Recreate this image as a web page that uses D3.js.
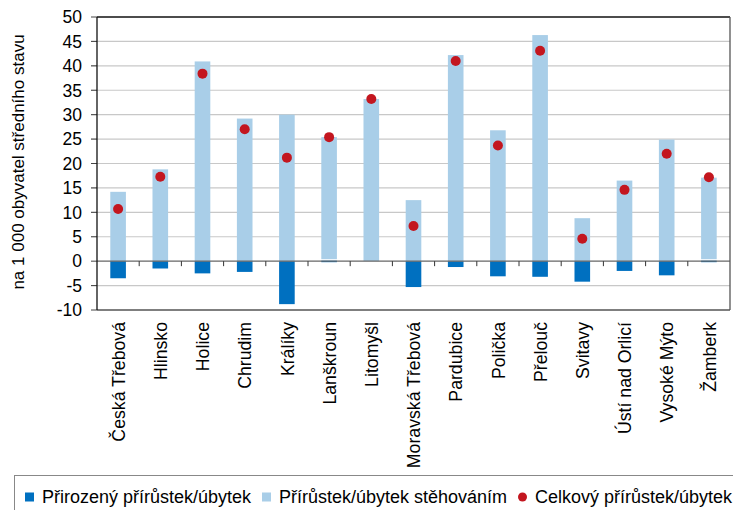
<!DOCTYPE html>
<html>
<head>
<meta charset="utf-8">
<script src="https://cdn.jsdelivr.net/npm/d3@7/dist/d3.min.js"></script>
<style>
  body { margin: 0; background: #fff; }
  text { font-family: "Liberation Sans", Arial, sans-serif; fill: #000; }
</style>
</head>
<body>
<svg width="733" height="510"></svg>
<script>
var towns = ["Česká Třebová", "Hlinsko", "Holice", "Chrudim", "Králíky", "Lanškroun", "Litomyšl",
  "Moravská Třebová", "Pardubice", "Polička", "Přelouč", "Svitavy", "Ústí nad Orlicí", "Vysoké Mýto", "Žamberk"];
var natural = [-3.5, -1.5, -2.5, -2.2, -8.8, 0.1, 0.0, -5.3, -1.2, -3.1, -3.2, -4.2, -2.0, -2.9, 0.1];
var migration = [14.2, 18.8, 40.9, 29.2, 30.0, 25.3, 33.2, 12.5, 42.2, 26.8, 46.3, 8.8, 16.5, 24.9, 17.0];
var total = [10.7, 17.3, 38.4, 27.0, 21.2, 25.4, 33.2, 7.2, 41.0, 23.7, 43.1, 4.6, 14.6, 22.0, 17.2];
var yTicks = [-10, -5, 0, 5, 10, 15, 20, 25, 30, 35, 40, 45, 50];

var svg = d3.select("svg"),
    margin = {top: 17, right: 3, bottom: 200, left: 97},
    width = 733 - margin.left - margin.right,
    height = 310 - margin.top,
    g = svg.append("g").attr("transform", "translate(" + margin.left + "," + margin.top + ")");

var x = d3.scaleBand().domain(towns).range([0, width]).paddingInner(0.63).paddingOuter(0.315);
var y = d3.scaleLinear().domain([-10, 50]).range([height, 0]);

// gridlines
g.append("g").selectAll("line").data(yTicks.filter(function(d) { return d !== 0 && d !== 50 && d !== -10; }))
  .enter().append("line")
    .attr("x1", -6).attr("x2", width)
    .attr("y1", function(d) { return y(d); }).attr("y2", function(d) { return y(d); })
    .attr("stroke", "#c8c8c8").attr("stroke-width", 1.2);

// y axis labels + ticks
g.append("g").selectAll("text").data(yTicks).enter().append("text")
    .attr("x", -15).attr("y", function(d) { return y(d); })
    .attr("dy", "0.36em")
    .attr("text-anchor", "end")
    .style("font-size", "17.5px")
    .text(function(d) { return d; });
g.append("g").selectAll("line").data(yTicks).enter().append("line")
    .attr("x1", -6).attr("x2", 0)
    .attr("y1", function(d) { return y(d); }).attr("y2", function(d) { return y(d); })
    .attr("stroke", "#444");

var bw = x.bandwidth();

// natural bars
g.append("g").selectAll("rect").data(natural).enter().append("rect")
    .attr("x", function(d, i) { return x(towns[i]); })
    .attr("width", bw)
    .attr("y", function(d) { return y(Math.max(d, 0)); })
    .attr("height", function(d) { return Math.max(Math.abs(y(d) - y(0)), d !== 0 ? 1.5 : 0); })
    .attr("fill", "#0070c0");

// migration bars, stacked above positive natural
g.append("g").selectAll("rect").data(migration).enter().append("rect")
    .attr("x", function(d, i) { return x(towns[i]); })
    .attr("width", bw)
    .attr("y", function(d, i) { return y(Math.max(natural[i], 0) + d); })
    .attr("height", function(d, i) { return y(Math.max(natural[i], 0)) - y(Math.max(natural[i], 0) + d) - (natural[i] > 0 ? 1.5 : 0); })
    .attr("fill", "#a9cee8");

// zero line with category ticks
g.append("line").attr("x1", 0).attr("x2", width).attr("y1", y(0)).attr("y2", y(0))
    .attr("stroke", "#666").attr("stroke-width", 1.3);
g.append("g").selectAll("line").data(d3.range(1, towns.length)).enter().append("line")
    .attr("x1", function(i) { return x.step() * i; }).attr("x2", function(i) { return x.step() * i; })
    .attr("y1", y(0)).attr("y2", y(0) + 5)
    .attr("stroke", "#333");

// total dots
g.append("g").selectAll("circle").data(total).enter().append("circle")
    .attr("cx", function(d, i) { return x(towns[i]) + bw / 2; })
    .attr("cy", function(d) { return y(d); })
    .attr("r", 5)
    .attr("fill", "#c3161f");

// frame
g.append("line").attr("x1", 0).attr("x2", width).attr("y1", 0).attr("y2", 0).attr("stroke", "#111").attr("stroke-width", 1.3);
g.append("line").attr("x1", width).attr("x2", width).attr("y1", 0).attr("y2", height).attr("stroke", "#555").attr("stroke-width", 1.3);
g.append("line").attr("x1", 0).attr("x2", width).attr("y1", height).attr("y2", height).attr("stroke", "#555").attr("stroke-width", 1.5);
g.append("line").attr("x1", 0).attr("x2", 0).attr("y1", 0).attr("y2", height).attr("stroke", "#111").attr("stroke-width", 1.3);

// category labels
g.append("g").selectAll("text").data(towns).enter().append("text")
    .attr("transform", function(d) { return "translate(" + (x(d) + bw / 2) + "," + (height + 12) + ") rotate(-90)"; })
    .attr("dy", "0.38em")
    .attr("text-anchor", "end")
    .style("font-size", "17.7px")
    .text(function(d) { return d; });

// y title
svg.append("text")
    .attr("transform", "translate(24,162) rotate(-90)")
    .attr("text-anchor", "middle")
    .style("font-size", "17px")
    .text("na 1 000 obyvatel středního stavu");

// legend
var legendItems = [
  {label: "Přirozený přírůstek/úbytek", color: "#0070c0", shape: "square", x: 25},
  {label: "Přírůstek/úbytek stěhováním", color: "#a9cee8", shape: "square", x: 262},
  {label: "Celkový přírůstek/úbytek", color: "#c3161f", shape: "circle", x: 518}
];
svg.append("rect").attr("x", 14.5).attr("y", 475.5).attr("width", 740).attr("height", 50)
    .attr("fill", "none").attr("stroke", "#888");
var lg = svg.append("g").selectAll("g").data(legendItems).enter().append("g")
    .attr("transform", function(d) { return "translate(" + d.x + ",497)"; });
lg.filter(function(d) { return d.shape === "square"; }).append("rect")
    .attr("x", 0).attr("y", -4.5).attr("width", 9).attr("height", 9)
    .attr("fill", function(d) { return d.color; });
lg.filter(function(d) { return d.shape === "circle"; }).append("circle")
    .attr("cx", 4.5).attr("cy", 0).attr("r", 4.5)
    .attr("fill", function(d) { return d.color; });
lg.append("text").attr("x", function(d) { return d.shape === "circle" ? 17 : 17; }).attr("dy", "0.36em")
    .style("font-size", "18px")
    .text(function(d) { return d.label; });
</script>
</body>
</html>
